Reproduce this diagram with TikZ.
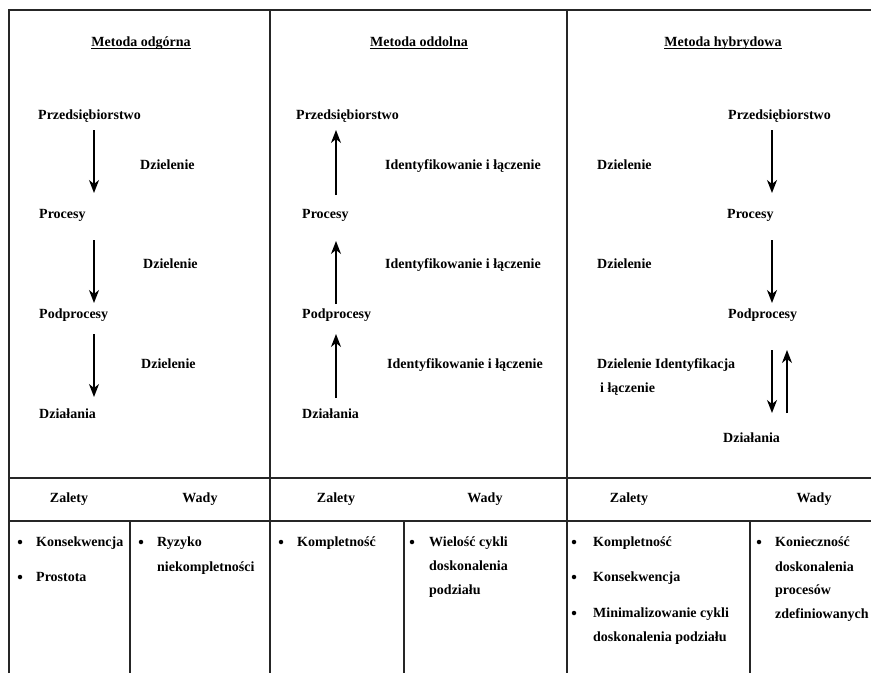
\documentclass[tikz,border=0pt]{standalone}
\usepackage{fontspec}
\setmainfont{Liberation Serif}
\usetikzlibrary{arrows.meta}
\begin{document}
\begin{tikzpicture}[x=1pt,y=-1pt,
  txt/.style={inner sep=0pt, anchor=base west},
  ctr/.style={inner sep=0pt, anchor=base},
  gridline/.style={line width=1.3pt, draw=black!85},
  arr/.style={line width=1.4pt, -{Stealth[length=13pt,width=10pt,inset=4pt]}},
  bul/.style={circle, fill=black, inner sep=0pt, minimum size=4.5pt},
  uline/.style={line width=0.9pt},
  font=\fontsize{14}{17}\selectfont\bfseries]
\useasboundingbox (0,0) rectangle (871,673);
\fill[white] (0,0) rectangle (871,673);

% grid
\draw[gridline] (9,673) -- (9,10) -- (871,10);
\draw[gridline] (270,10) -- (270,673);
\draw[gridline] (567,10) -- (567,673);
\draw[gridline] (9,478) -- (871,478);
\draw[gridline] (9,521) -- (871,521);
\draw[gridline] (130,521) -- (130,673);
\draw[gridline] (404,521) -- (404,673);
\draw[gridline] (750,521) -- (750,673);

% ---- column 1: Metoda odgorna
\node[ctr] (M1) at (141,46) {Metoda odgórna};
\draw[uline] ([yshift=-2pt]M1.base west) -- ([yshift=-2pt]M1.base east);
\node[txt] (P1) at (38,119) {Przedsiębiorstwo};
\node[txt] (D1a) at (140,169) {Dzielenie};
\node[txt] (R1) at (39,218.5) {Procesy};
\node[txt] (D1b) at (143,268) {Dzielenie};
\node[txt] (S1) at (39,318) {Podprocesy};
\node[txt] (D1c) at (141,368) {Dzielenie};
\node[txt] (A1) at (39,418) {Działania};
\coordinate (c1a) at (94,130); \coordinate (c1b) at (94,193);
\coordinate (c1c) at (94,240); \coordinate (c1d) at (94,303);
\coordinate (c1e) at (94,334); \coordinate (c1f) at (94,397);
\draw[arr] (c1a) -- (c1b);
\draw[arr] (c1c) -- (c1d);
\draw[arr] (c1e) -- (c1f);

% ---- column 2: Metoda oddolna
\node[ctr] (M2) at (419,46) {Metoda oddolna};
\draw[uline] ([yshift=-2pt]M2.base west) -- ([yshift=-2pt]M2.base east);
\node[txt] (P2) at (296,119) {Przedsiębiorstwo};
\node[txt] (I2a) at (385,169) {Identyfikowanie i łączenie};
\node[txt] (R2) at (302,218.5) {Procesy};
\node[txt] (I2b) at (385,268) {Identyfikowanie i łączenie};
\node[txt] (S2) at (302,318) {Podprocesy};
\node[txt] (I2c) at (387,368) {Identyfikowanie i łączenie};
\node[txt] (A2) at (302,418) {Działania};
\coordinate (c2a) at (336,195); \coordinate (c2b) at (336,130);
\coordinate (c2c) at (336,304); \coordinate (c2d) at (336,241);
\coordinate (c2e) at (336,398); \coordinate (c2f) at (336,334);
\draw[arr] (c2a) -- (c2b);
\draw[arr] (c2c) -- (c2d);
\draw[arr] (c2e) -- (c2f);

% ---- column 3: Metoda hybrydowa
\node[ctr] (M3) at (723,46) {Metoda hybrydowa};
\draw[uline] ([yshift=-2pt]M3.base west) -- ([yshift=-2pt]M3.base east);
\node[txt] (P3) at (728,119) {Przedsiębiorstwo};
\node[txt] (D3a) at (597,169) {Dzielenie};
\node[txt] (R3) at (727,218.5) {Procesy};
\node[txt] (D3b) at (597,268) {Dzielenie};
\node[txt] (S3) at (728,318) {Podprocesy};
\node[txt] (D3c) at (597,368) {Dzielenie Identyfikacja};
\node[txt] (D3d) at (600,392.5) {i łączenie};
\node[txt] (A3) at (723,442.5) {Działania};
\coordinate (c3a) at (772,130); \coordinate (c3b) at (772,193);
\coordinate (c3c) at (772,240); \coordinate (c3d) at (772,303);
\coordinate (c3e) at (772,350); \coordinate (c3f) at (772,413);
\coordinate (c3g) at (787,413); \coordinate (c3h) at (787,350);
\draw[arr] (c3a) -- (c3b);
\draw[arr] (c3c) -- (c3d);
\draw[arr] (c3e) -- (c3f);
\draw[arr] (c3g) -- (c3h);

% ---- header row
\node[ctr] (Z1) at (69,502.5) {Zalety};
\node[ctr] (W1) at (200,502.5) {Wady};
\node[ctr] (Z2) at (336,502.5) {Zalety};
\node[ctr] (W2) at (485,502.5) {Wady};
\node[ctr] (Z3) at (629,502.5) {Zalety};
\node[ctr] (W3) at (814,502.5) {Wady};

% ---- column 1 lists
\node[bul] (b1a) at (20,542) {};
\node[txt] (z1a) at (36,546.5) {Konsekwencja};
\node[bul] (b1b) at (20,577) {};
\node[txt] (z1b) at (36,581.5) {Prostota};
\node[bul] (b1c) at (141,542) {};
\node[txt] (w1a) at (157,546.5) {Ryzyko};
\node[txt] (w1b) at (157,571.5) {niekompletności};

% ---- column 2 lists
\node[bul] (b2a) at (281,542) {};
\node[txt] (z2a) at (297,546.5) {Kompletność};
\node[bul] (b2b) at (412,542) {};
\node[txt] (w2a) at (429,546.5) {Wielość cykli};
\node[txt] (w2b) at (429,570.5) {doskonalenia};
\node[txt] (w2c) at (429,594) {podziału};

% ---- column 3 lists
\node[bul] (b3a) at (574,542) {};
\node[txt] (z3a) at (593,546.5) {Kompletność};
\node[bul] (b3b) at (574,577) {};
\node[txt] (z3b) at (593,581.5) {Konsekwencja};
\node[bul] (b3c) at (574,613) {};
\node[txt] (z3c) at (593,617.5) {Minimalizowanie cykli};
\node[txt] (z3d) at (593,641.5) {doskonalenia podziału};
\node[bul] (b3d) at (759,542) {};
\node[txt] (w3a) at (775,546.5) {Konieczność};
\node[txt] (w3b) at (775,571.5) {doskonalenia};
\node[txt] (w3c) at (775,594.5) {procesów};
\node[txt] (w3d) at (775,618.5) {zdefiniowanych};
\end{tikzpicture}
\end{document}
